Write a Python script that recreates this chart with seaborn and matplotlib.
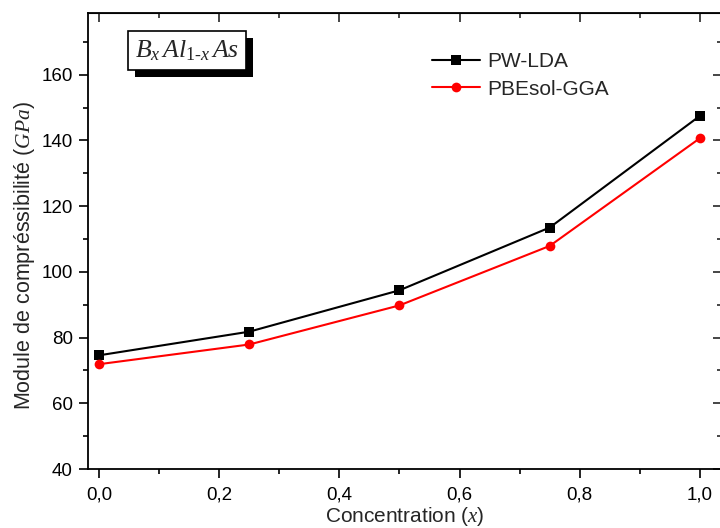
import matplotlib
matplotlib.use("Agg")
import matplotlib.pyplot as plt
import matplotlib.patheffects as pe
from matplotlib.ticker import MultipleLocator, FuncFormatter
import seaborn as sns
import pandas as pd

concentration = [0.0, 0.25, 0.5, 0.75, 1.0]
pw_lda = [74.6, 81.8, 94.4, 113.5, 147.5]
pbesol_gga = [71.9, 77.9, 89.8, 107.9, 140.7]
series_names = ["PW-LDA", "PBEsol-GGA"]

df = pd.DataFrame({
    "x": concentration * 2,
    "B": pw_lda + pbesol_gga,
    "method": [series_names[0]] * 5 + [series_names[1]] * 5,
})

sns.set_style("ticks")
plt.rcParams["font.family"] = ["Liberation Sans", "DejaVu Sans"]
plt.rcParams["mathtext.fontset"] = "custom"
plt.rcParams["mathtext.it"] = "Liberation Serif:italic"
plt.rcParams["mathtext.rm"] = "Liberation Serif"

fig = plt.figure(figsize=(7.2, 5.28), dpi=100)
ax = fig.add_axes([88/720, 59/528, 634/720, 456/528])

sns.lineplot(data=df, x="x", y="B", hue="method", style="method",
             palette={"PW-LDA": "black", "PBEsol-GGA": "red"},
             markers={"PW-LDA": "s", "PBEsol-GGA": "o"},
             dashes=False, markersize=7, linewidth=1.5,
             markeredgewidth=0, ax=ax)

ax.set_xlim(-0.0183, 1.0367)
ax.set_ylim(40, 178.8)
ax.xaxis.set_major_locator(MultipleLocator(0.2))
ax.xaxis.set_minor_locator(MultipleLocator(0.1))
ax.yaxis.set_major_locator(MultipleLocator(20))
ax.yaxis.set_minor_locator(MultipleLocator(10))
ax.xaxis.set_major_formatter(FuncFormatter(lambda v, p: f"{v:.1f}".replace(".", ",")))

for s in ax.spines.values():
    s.set_linewidth(1.3)
    s.set_color("black")
    s.set_visible(True)

ax.tick_params(which="both", direction="out", bottom=True, left=True, top=False, right=False,
               labelsize=13.5, colors="black", width=1.2)
ax.tick_params(axis="x", which="major", pad=6)
ax.tick_params(axis="y", which="major", pad=4.5)
ax.tick_params(which="major", length=6.5)
ax.tick_params(which="minor", length=3.5)

# inward ticks on top and right
sec_x = ax.secondary_xaxis("top")
sec_x.xaxis.set_major_locator(MultipleLocator(0.2))
sec_x.xaxis.set_minor_locator(MultipleLocator(0.1))
sec_x.tick_params(which="both", direction="in", labeltop=False, width=1.2)
sec_x.tick_params(which="major", length=6.5)
sec_x.tick_params(which="minor", length=3.5)
sec_y = ax.secondary_yaxis("right")
sec_y.yaxis.set_major_locator(MultipleLocator(20))
sec_y.yaxis.set_minor_locator(MultipleLocator(10))
sec_y.tick_params(which="both", direction="in", labelright=False, width=1.2)
sec_y.tick_params(which="major", length=6.5)
sec_y.tick_params(which="minor", length=3.5)

ax.set_xlabel(r"Concentration ($x$)", fontsize=15, labelpad=1)
ax.set_ylabel(r"Module de compréssibilité ($GPa$)", fontsize=15.5)
ax.yaxis.set_label_coords(-0.08, 0.467)

leg = ax.legend(loc="upper left", bbox_to_anchor=(0.542, 0.914), frameon=False,
                fontsize=15, handlelength=2.3, handletextpad=0.35, labelspacing=0.4,
                borderaxespad=0, borderpad=0)

t = ax.text(0.156, 0.918, r"$B_x\,Al_{\mathit{1}\text{-}x}\,As$", transform=ax.transAxes,
            ha="center", va="center", fontsize=18.5,
            bbox=dict(boxstyle="square,pad=0.28", facecolor="white", edgecolor="black", linewidth=1.2))
t.get_bbox_patch().set_path_effects([pe.SimplePatchShadow(offset=(5, -5), shadow_rgbFace="black", alpha=1.0), pe.Normal()])

fig.savefig("out.png", dpi=100)
